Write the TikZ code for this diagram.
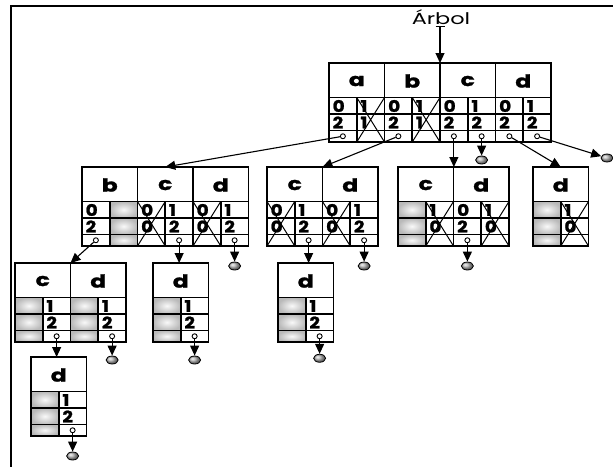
\documentclass[tikz,border=0pt]{standalone}
\usepackage{fontspec}
\setmainfont{Poppins}[BoldFeatures={FakeBold=1.2}]
\usetikzlibrary{arrows.meta,shapes.geometric,calc}

% cell geometry (1 unit = 1pt)
\newcommand\cw{55.5}   % width of a letter column
\newcommand\sw{27.75}  % width of a half column
\newcommand\ya{34.5}   % bottom of the header row
\newcommand\yb{51}     % bottom of the first value row
\newcommand\yc{67.5}   % bottom of the second value row
\newcommand\yd{79}     % bottom of the pointer row
\newcommand\wide[2]{\scalebox{#1}[1]{#2}}

\tikzset{
  cell/.style={line width=1.8pt},
  xline/.style={line width=1pt},
  lettxt/.style={inner sep=0pt, font=\fontsize{18}{18}\selectfont\bfseries},
  digit/.style={inner sep=0pt, anchor=west, font=\fontsize{16}{16}\selectfont\bfseries},
  title/.style={inner sep=0pt, font=\fontsize{16}{16}\selectfont},
  ptr/.style={circle, draw, fill=white, line width=0.9pt, minimum size=5pt, inner sep=0pt},
  nil/.style={ellipse, draw, line width=0.8pt, minimum width=12pt, minimum height=8pt,
              inner sep=0pt, ball color=gray!60},
  link/.style={line width=1.1pt, -{Triangle[length=10pt,width=9pt]}},
  cellshade/.style={inner color=gray!5, outer color=gray!55},
  frame/.style={line width=2.2pt},
}

% outline of a block with #1 letter columns; also names its top centre
\newcommand\blockgrid[1]{%
  \draw[cell] (0,0) rectangle ({#1*\cw},\yd);
  \draw[cell] (0,\ya) -- ({#1*\cw},\ya) (0,\yb) -- ({#1*\cw},\yb) (0,\yc) -- ({#1*\cw},\yc);
  \foreach \k in {1,...,#1}{%
    \draw[cell] ({(\k-1)*\cw+\sw},\ya) -- ({(\k-1)*\cw+\sw},\yd);
    \draw[cell] ({\k*\cw},0) -- ({\k*\cw},\yd);
  }
  \coordinate (\bn) at ({#1*\cw/2},0);
}
% header letter of column #1
\newcommand\lett[2]{\node[lettxt] (\bn-h#1) at ({(#1+.5)*\cw},18) {\wide{1.3}{#2}};}
% the two values of half column (#1,#2)
\newcommand\vals[4]{%
  \node[digit] (\bn-v#1#2a) at ({#1*\cw+#2*\sw+3.5},43) {\wide{1.15}{#3}};
  \node[digit] (\bn-v#1#2b) at ({#1*\cw+#2*\sw+3.5},59.5) {\wide{1.15}{#4}};
}
% half column with a pointer
\newcommand\pcell[4]{%
  \vals{#1}{#2}{#3}{#4}
  \node[ptr] (\bn-p#1#2) at ({#1*\cw+#2*\sw+\sw/2},73.25) {};
}
% crossed-out half column
\newcommand\xcell[4]{%
  \vals{#1}{#2}{#3}{#4}
  \draw[xline] ({#1*\cw+#2*\sw},\ya) -- ({#1*\cw+#2*\sw+\sw},\yd)
               ({#1*\cw+#2*\sw+\sw},\ya) -- ({#1*\cw+#2*\sw},\yd);
}
% empty (shaded) half column
\newcommand\gcell[2]{%
  \shade[cellshade] ({#1*\cw+#2*\sw},\ya) rectangle ++(\sw,16.5);
  \shade[cellshade] ({#1*\cw+#2*\sw},\yb) rectangle ++(\sw,16.5);
  \shade[cellshade] ({#1*\cw+#2*\sw},\yc) rectangle ++(\sw,11.5);
}

\begin{document}
\begin{tikzpicture}[x=1pt,y=-1pt]
\useasboundingbox (0,0) rectangle (613,466);
\draw[frame] (11,467) -- (11,6) -- (614,6);

% title and entry arrow
\node[title] (arbol) at (441,17.5) {\wide{1.4}{Árbol}};
\coordinate (arbstart) at (440,26);

% level 0
\begin{scope}[shift={(329,63)}]\def\bn{root}
  \blockgrid{4}
  \lett{0}{a}\lett{1}{b}\lett{2}{c}\lett{3}{d}
  \pcell{0}{0}{0}{2}\xcell{0}{1}{1}{1}
  \pcell{1}{0}{0}{2}\xcell{1}{1}{1}{1}
  \pcell{2}{0}{0}{2}\pcell{2}{1}{1}{2}
  \pcell{3}{0}{0}{2}\pcell{3}{1}{1}{2}
\end{scope}

% level 1
\begin{scope}[shift={(82,167)}]\def\bn{La}
  \gcell{0}{1}
  \blockgrid{3}
  \lett{0}{b}\lett{1}{c}\lett{2}{d}
  \pcell{0}{0}{0}{2}
  \xcell{1}{0}{0}{0}\pcell{1}{1}{1}{2}
  \xcell{2}{0}{0}{0}\pcell{2}{1}{1}{2}
\end{scope}
\begin{scope}[shift={(267,167)}]\def\bn{Lb}
  \blockgrid{2}
  \lett{0}{c}\lett{1}{d}
  \xcell{0}{0}{0}{0}\pcell{0}{1}{1}{2}
  \xcell{1}{0}{0}{0}\pcell{1}{1}{1}{2}
\end{scope}
\begin{scope}[shift={(398,167)}]\def\bn{Lc}
  \gcell{0}{0}
  \blockgrid{2}
  \lett{0}{c}\lett{1}{d}
  \xcell{0}{1}{1}{0}
  \pcell{1}{0}{0}{2}\xcell{1}{1}{1}{0}
\end{scope}
\begin{scope}[shift={(533,167)}]\def\bn{Ld}
  \gcell{0}{0}
  \blockgrid{1}
  \lett{0}{d}
  \xcell{0}{1}{1}{0}
\end{scope}

% level 2
\begin{scope}[shift={(15,263)}]\def\bn{Ma}
  \gcell{0}{0}\gcell{1}{0}
  \blockgrid{2}
  \lett{0}{c}\lett{1}{d}
  \pcell{0}{1}{1}{2}\pcell{1}{1}{1}{2}
\end{scope}
\begin{scope}[shift={(153,263)}]\def\bn{Mb}
  \gcell{0}{0}
  \blockgrid{1}
  \lett{0}{d}
  \pcell{0}{1}{1}{2}
\end{scope}
\begin{scope}[shift={(278,263)}]\def\bn{Mc}
  \gcell{0}{0}
  \blockgrid{1}
  \lett{0}{d}
  \pcell{0}{1}{1}{2}
\end{scope}

% level 3
\begin{scope}[shift={(31,357)}]\def\bn{Na}
  \gcell{0}{0}
  \blockgrid{1}
  \lett{0}{d}
  \pcell{0}{1}{1}{2}
\end{scope}

% null pointers
\node[nil] (n1) at ($(root-p21)+(0,23.75)$) {};
\node[nil] (n2) at (607,158) {};
\node[nil] (n3) at ($(La-p21)+(0,25.75)$) {};
\node[nil] (n4) at ($(Lb-p11)+(0,25.75)$) {};
\node[nil] (n5) at ($(Lc-p10)+(0,25.75)$) {};
\node[nil] (n6) at ($(Ma-p11)+(0,23.75)$) {};
\node[nil] (n7) at ($(Mb-p01)+(0,23.75)$) {};
\node[nil] (n8) at ($(Mc-p01)+(0,22)$) {};
\node[nil] (n9) at ($(Na-p01)+(0,25.75)$) {};

% connectors
\draw[line width=1.1pt, {Bar[width=9pt]}-{Triangle[length=10pt,width=9pt]}] (arbstart) -- (root);
\draw[link] (root-p00) -- (La);
\draw[link] (root-p10) -- (Lb);
\draw[link] (root-p20) -- (root-p20 |- Lc);
\draw[link] (root-p21) -- (n1);
\draw[link] (root-p30) -- (Ld);
\draw[link] (root-p31) -- (n2);
\draw[link] (La-p00) -- (Ma);
\draw[link] (La-p11) -- (La-p11 |- Mb);
\draw[link] (La-p21) -- (n3);
\draw[link] (Lb-p01) -- (Lb-p01 |- Mc);
\draw[link] (Lb-p11) -- (n4);
\draw[link] (Lc-p10) -- (n5);
\draw[link] (Ma-p01) -- (Ma-p01 |- Na);
\draw[link] (Ma-p11) -- (n6);
\draw[link] (Mb-p01) -- (n7);
\draw[link] (Mc-p01) -- (n8);
\draw[link] (Na-p01) -- (n9);
\end{tikzpicture}
\end{document}
